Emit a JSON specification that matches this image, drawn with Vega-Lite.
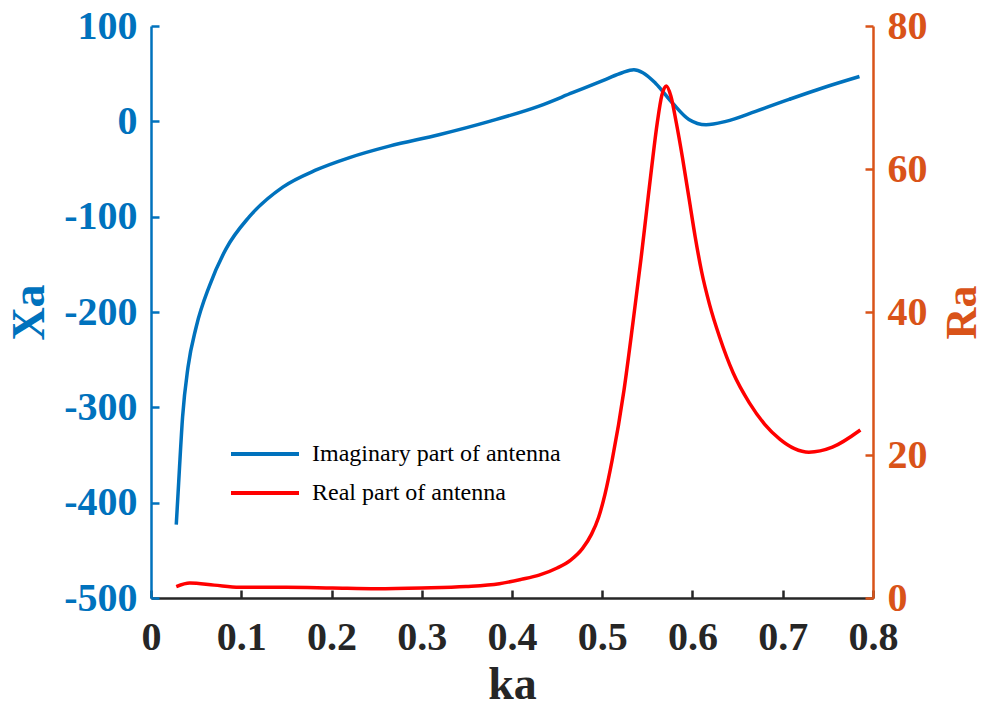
{
  "$schema": "https://vega.github.io/schema/vega-lite/v6.json",
  "width": 722,
  "height": 572,
  "autosize": {"type": "none"},
  "padding": {"left": 151, "top": 26, "right": 112, "bottom": 111},
  "background": "white",
  "config": {"view": {"stroke": null}, "font": "Liberation Serif"},
  "datasets": {
    "imag": [
      {"ka": 0.028, "Xa": -423, "part": "Imaginary part of antenna"},
      {"ka": 0.030, "Xa": -390, "part": "Imaginary part of antenna"},
      {"ka": 0.0316, "Xa": -363, "part": "Imaginary part of antenna"},
      {"ka": 0.035, "Xa": -310, "part": "Imaginary part of antenna"},
      {"ka": 0.041, "Xa": -258, "part": "Imaginary part of antenna"},
      {"ka": 0.050, "Xa": -216, "part": "Imaginary part of antenna"},
      {"ka": 0.065, "Xa": -172, "part": "Imaginary part of antenna"},
      {"ka": 0.083, "Xa": -134, "part": "Imaginary part of antenna"},
      {"ka": 0.109, "Xa": -100, "part": "Imaginary part of antenna"},
      {"ka": 0.146, "Xa": -69, "part": "Imaginary part of antenna"},
      {"ka": 0.183, "Xa": -51, "part": "Imaginary part of antenna"},
      {"ka": 0.220, "Xa": -38, "part": "Imaginary part of antenna"},
      {"ka": 0.264, "Xa": -26, "part": "Imaginary part of antenna"},
      {"ka": 0.319, "Xa": -14, "part": "Imaginary part of antenna"},
      {"ka": 0.375, "Xa": 0, "part": "Imaginary part of antenna"},
      {"ka": 0.430, "Xa": 16, "part": "Imaginary part of antenna"},
      {"ka": 0.467, "Xa": 30, "part": "Imaginary part of antenna"},
      {"ka": 0.504, "Xa": 44, "part": "Imaginary part of antenna"},
      {"ka": 0.522, "Xa": 51, "part": "Imaginary part of antenna"},
      {"ka": 0.535, "Xa": 54, "part": "Imaginary part of antenna"},
      {"ka": 0.545, "Xa": 51, "part": "Imaginary part of antenna"},
      {"ka": 0.559, "Xa": 40, "part": "Imaginary part of antenna"},
      {"ka": 0.578, "Xa": 19, "part": "Imaginary part of antenna"},
      {"ka": 0.596, "Xa": 2, "part": "Imaginary part of antenna"},
      {"ka": 0.615, "Xa": -3.5, "part": "Imaginary part of antenna"},
      {"ka": 0.637, "Xa": 0, "part": "Imaginary part of antenna"},
      {"ka": 0.670, "Xa": 10.5, "part": "Imaginary part of antenna"},
      {"ka": 0.707, "Xa": 23, "part": "Imaginary part of antenna"},
      {"ka": 0.744, "Xa": 35, "part": "Imaginary part of antenna"},
      {"ka": 0.785, "Xa": 47, "part": "Imaginary part of antenna"}
    ],
    "real": [
      {"ka": 0.028, "Ra": 1.6, "part": "Real part of antenna"},
      {"ka": 0.043, "Ra": 2.1, "part": "Real part of antenna"},
      {"ka": 0.070, "Ra": 1.8, "part": "Real part of antenna"},
      {"ka": 0.098, "Ra": 1.5, "part": "Real part of antenna"},
      {"ka": 0.150, "Ra": 1.5, "part": "Real part of antenna"},
      {"ka": 0.201, "Ra": 1.4, "part": "Real part of antenna"},
      {"ka": 0.250, "Ra": 1.3, "part": "Real part of antenna"},
      {"ka": 0.300, "Ra": 1.4, "part": "Real part of antenna"},
      {"ka": 0.349, "Ra": 1.6, "part": "Real part of antenna"},
      {"ka": 0.386, "Ra": 2.0, "part": "Real part of antenna"},
      {"ka": 0.410, "Ra": 2.6, "part": "Real part of antenna"},
      {"ka": 0.430, "Ra": 3.2, "part": "Real part of antenna"},
      {"ka": 0.450, "Ra": 4.2, "part": "Real part of antenna"},
      {"ka": 0.465, "Ra": 5.3, "part": "Real part of antenna"},
      {"ka": 0.478, "Ra": 6.9, "part": "Real part of antenna"},
      {"ka": 0.488, "Ra": 8.9, "part": "Real part of antenna"},
      {"ka": 0.496, "Ra": 11.3, "part": "Real part of antenna"},
      {"ka": 0.503, "Ra": 14.5, "part": "Real part of antenna"},
      {"ka": 0.511, "Ra": 19.3, "part": "Real part of antenna"},
      {"ka": 0.524, "Ra": 29, "part": "Real part of antenna"},
      {"ka": 0.534, "Ra": 38.5, "part": "Real part of antenna"},
      {"ka": 0.543, "Ra": 47.5, "part": "Real part of antenna"},
      {"ka": 0.549, "Ra": 54, "part": "Real part of antenna"},
      {"ka": 0.555, "Ra": 60.5, "part": "Real part of antenna"},
      {"ka": 0.561, "Ra": 66.5, "part": "Real part of antenna"},
      {"ka": 0.566, "Ra": 70.3, "part": "Real part of antenna"},
      {"ka": 0.571, "Ra": 71.6, "part": "Real part of antenna"},
      {"ka": 0.576, "Ra": 70.2, "part": "Real part of antenna"},
      {"ka": 0.582, "Ra": 66.5, "part": "Real part of antenna"},
      {"ka": 0.589, "Ra": 61.5, "part": "Real part of antenna"},
      {"ka": 0.596, "Ra": 56, "part": "Real part of antenna"},
      {"ka": 0.603, "Ra": 50.5, "part": "Real part of antenna"},
      {"ka": 0.610, "Ra": 45.7, "part": "Real part of antenna"},
      {"ka": 0.619, "Ra": 41.0, "part": "Real part of antenna"},
      {"ka": 0.630, "Ra": 36.5, "part": "Real part of antenna"},
      {"ka": 0.645, "Ra": 31.5, "part": "Real part of antenna"},
      {"ka": 0.663, "Ra": 27.3, "part": "Real part of antenna"},
      {"ka": 0.680, "Ra": 24.3, "part": "Real part of antenna"},
      {"ka": 0.697, "Ra": 22.2, "part": "Real part of antenna"},
      {"ka": 0.713, "Ra": 20.9, "part": "Real part of antenna"},
      {"ka": 0.729, "Ra": 20.4, "part": "Real part of antenna"},
      {"ka": 0.755, "Ra": 21.1, "part": "Real part of antenna"},
      {"ka": 0.786, "Ra": 23.5, "part": "Real part of antenna"}
    ]
  },
  "layer": [
    {
      "data": {"name": "imag"},
      "mark": {"type": "line", "strokeWidth": 3.5, "interpolate": "monotone"},
      "encoding": {
        "x": {
          "field": "ka", "type": "quantitative",
          "scale": {"domain": [0, 0.8], "nice": false, "zero": false},
          "axis": {
            "values": [0, 0.1, 0.2, 0.3, 0.4, 0.5, 0.6, 0.7, 0.8],
            "labelExpr": "datum.value == 0 ? '0' : format(datum.value, '.1f')",
            "grid": false,
            "domainColor": "#262626", "domainWidth": 2.5,
            "tickColor": "#262626", "tickWidth": 2.5, "tickSize": -8,
            "labelFont": "Liberation Serif", "labelFontWeight": "bold", "labelFontSize": 40,
            "labelColor": "#262626", "labelPadding": 27, "labelFlush": false, "labelOverlap": false,
            "title": "ka", "titleFont": "Liberation Serif", "titleFontWeight": "bold",
            "titleFontSize": 46, "titleColor": "#262626",
            "titleY": 100, "titleBaseline": "alphabetic"
          }
        },
        "y": {
          "field": "Xa", "type": "quantitative",
          "scale": {"domain": [-500, 100], "nice": false, "zero": false},
          "axis": {
            "values": [-500, -400, -300, -200, -100, 0, 100],
            "labelExpr": "'' + datum.value",
            "grid": false,
            "domainColor": "#0072BD", "domainWidth": 2.5,
            "tickColor": "#0072BD", "tickWidth": 2.5, "tickSize": -8,
            "labelFont": "Liberation Serif", "labelFontWeight": "bold", "labelFontSize": 40,
            "labelColor": "#0072BD", "labelPadding": 22, "labelOverlap": false, "labelFlush": false,
            "title": "Xa", "titleFont": "Liberation Serif", "titleFontWeight": "bold",
            "titleFontSize": 46, "titleColor": "#0072BD",
            "titleX": -122, "titleY": 286, "titleAngle": -90, "titleBaseline": "middle", "titleAlign": "center"
          }
        },
        "color": {
          "field": "part", "type": "nominal",
          "scale": {"domain": ["Imaginary part of antenna", "Real part of antenna"], "range": ["#0072BD", "#FF0000"]},
          "legend": {
            "orient": "none", "legendX": 95, "legendY": 409, "title": null,
            "symbolType": "M-2,0H2", "symbolSize": 1156, "symbolStrokeWidth": 4,
            "labelFont": "Liberation Serif", "labelFontSize": 24, "labelColor": "#000000",
            "labelLimit": 0, "labelOffset": 28, "rowPadding": 8, "padding": 0
          }
        }
      }
    },
    {
      "data": {"name": "real"},
      "mark": {"type": "line", "strokeWidth": 3.5, "interpolate": "monotone"},
      "encoding": {
        "x": {"field": "ka", "type": "quantitative"},
        "y": {
          "field": "Ra", "type": "quantitative",
          "scale": {"domain": [0, 80], "nice": false},
          "axis": {
            "orient": "right",
            "values": [0, 20, 40, 60, 80],
            "grid": false,
            "domainColor": "#D95319", "domainWidth": 2.5,
            "tickColor": "#D95319", "tickWidth": 2.5, "tickSize": -8,
            "labelFont": "Liberation Serif", "labelFontWeight": "bold", "labelFontSize": 40,
            "labelColor": "#D95319", "labelPadding": 22, "labelOverlap": false, "labelFlush": false,
            "title": "Ra", "titleFont": "Liberation Serif", "titleFontWeight": "bold",
            "titleFontSize": 44, "titleColor": "#D95319",
            "titleX": 89, "titleY": 286, "titleAngle": -90, "titleBaseline": "middle", "titleAlign": "center"
          }
        },
        "color": {"field": "part", "type": "nominal"}
      }
    }
  ],
  "resolve": {"scale": {"y": "independent"}}
}
